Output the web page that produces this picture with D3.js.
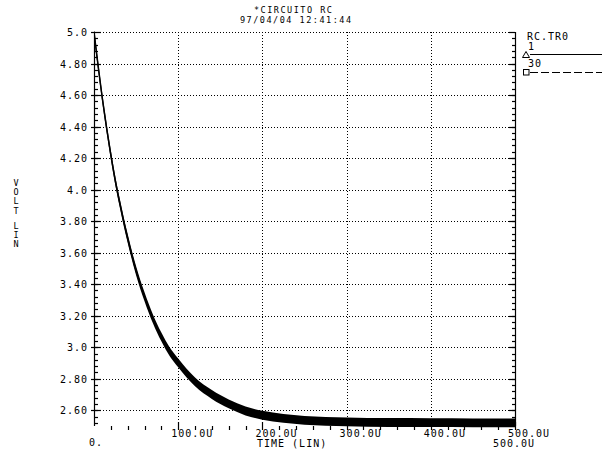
<!DOCTYPE html>
<html>
<head>
<meta charset="utf-8">
<script src="https://cdn.jsdelivr.net/npm/d3@7"></script>
<style>
  body { margin: 0; background: #fff; }
  svg text { font-family: "DejaVu Sans Mono", monospace; font-size: 10px; letter-spacing: 1px; fill: #000; }
  svg text.title { font-size: 8.5px; letter-spacing: 1.5px; }
  svg text.vert { font-size: 8.5px; letter-spacing: -0.8px; writing-mode: vertical-rl; text-orientation: upright; }
</style>
</head>
<body>
<svg id="chart"></svg>
<script>
// title lines
var titleLines = ["*CIRCUITO RC", "97/04/04 12:41:44"];

// x axis (time, in micro seconds)
var xMajor = [100, 200, 300, 400, 500];
var xLabels = ["100.0U", "200.0U", "300.0U", "400.0U", "500.0U"];

// y axis (volt)
var yMajor = [5.0, 4.8, 4.6, 4.4, 4.2, 4.0, 3.8, 3.6, 3.4, 3.2, 3.0, 2.8, 2.6];
var yLabels = ["5.0", "4.80", "4.60", "4.40", "4.20", "4.0", "3.80", "3.60", "3.40", "3.20", "3.0", "2.80", "2.60"];

// curve
var timeUs = [0, 5, 10, 15, 20, 25, 30, 40, 50, 60, 70, 80, 90, 100, 110, 120, 140, 160, 180, 200, 225, 250, 300, 350, 400, 450, 500];
var voltMid = [5.00, 4.78, 4.575, 4.39, 4.22, 4.065, 3.93, 3.69, 3.485, 3.32, 3.18, 3.065, 2.97, 2.9, 2.835, 2.78, 2.70, 2.64, 2.595, 2.568, 2.548, 2.536, 2.526, 2.522, 2.521, 2.52, 2.52];
// ripple of the trace, plus / minus volt
var ripple = 0.028;

var legendNames = ["1", "30"];

var config = { w: 612, h: 451, left: 94, right: 515, top: 32, bottom: 426 };

var svg = d3.select("#chart").attr("width", config.w).attr("height", config.h);

var x = d3.scaleLinear().domain([0, 500]).range([config.left, config.right]);
var y = d3.scaleLinear().domain([2.5, 5.0]).range([config.bottom, config.top]);

// titles
svg.append("text").attr("class", "title").attr("x", 254).attr("y", 12.5).text(titleLines[0]);
svg.append("text").attr("class", "title").attr("x", 240).attr("y", 22.5).text(titleLines[1]);

// grid
var grid = svg.append("g").attr("stroke", "#000").attr("stroke-width", 1).attr("stroke-dasharray", "1,2");
grid.selectAll("line.h")
  .data(yMajor)
  .enter().append("line")
  .attr("class", "h")
  .attr("x1", config.left).attr("x2", config.right)
  .attr("y1", function(d) { return Math.round(y(d)) + 0.5; })
  .attr("y2", function(d) { return Math.round(y(d)) + 0.5; });
grid.selectAll("line.v")
  .data(xMajor.slice(0, 4))
  .enter().append("line")
  .attr("class", "v")
  .attr("y1", config.top).attr("y2", config.bottom)
  .attr("x1", function(d) { return Math.round(x(d)) + 0.5; })
  .attr("x2", function(d) { return Math.round(x(d)) + 0.5; });

// axes lines
var ax = svg.append("g").attr("stroke", "#000").attr("stroke-width", 1.2);
ax.append("line").attr("x1", config.left + 0.5).attr("x2", config.left + 0.5).attr("y1", config.top).attr("y2", config.bottom);
ax.append("line").attr("x1", config.right + 0.5).attr("x2", config.right + 0.5).attr("y1", config.top).attr("y2", config.bottom);

// y ticks
var yMinor = d3.range(2.52, 4.99, 0.04);
ax.selectAll("line.ymin")
  .data(yMinor)
  .enter().append("line")
  .attr("x1", config.left).attr("x2", config.left + 4)
  .attr("y1", function(d) { return Math.round(y(d)) + 0.5; })
  .attr("y2", function(d) { return Math.round(y(d)) + 0.5; });
ax.selectAll("line.ymaj")
  .data(yMajor)
  .enter().append("line")
  .attr("x1", config.left - 3).attr("x2", config.left + 7)
  .attr("y1", function(d) { return Math.round(y(d)) + 0.5; })
  .attr("y2", function(d) { return Math.round(y(d)) + 0.5; });
ax.selectAll("line.ymin2")
  .data(yMinor)
  .enter().append("line")
  .attr("x1", config.right - 3).attr("x2", config.right)
  .attr("y1", function(d) { return Math.round(y(d)) + 0.5; })
  .attr("y2", function(d) { return Math.round(y(d)) + 0.5; });
ax.selectAll("line.ymaj2")
  .data(yMajor)
  .enter().append("line")
  .attr("x1", config.right - 6).attr("x2", config.right)
  .attr("y1", function(d) { return Math.round(y(d)) + 0.5; })
  .attr("y2", function(d) { return Math.round(y(d)) + 0.5; });

// x ticks
var xMinor = d3.range(20, 500, 20).filter(function(d) { return d % 100 != 0; });
ax.selectAll("line.xmin")
  .data(xMinor)
  .enter().append("line")
  .attr("y1", config.bottom).attr("y2", config.bottom + 4)
  .attr("x1", function(d) { return Math.round(x(d)) + 0.5; })
  .attr("x2", function(d) { return Math.round(x(d)) + 0.5; });
ax.selectAll("line.xmaj")
  .data(xMajor)
  .enter().append("line")
  .attr("y1", config.bottom - 4).attr("y2", config.bottom + 4)
  .attr("x1", function(d) { return Math.round(x(d)) + 0.5; })
  .attr("x2", function(d) { return Math.round(x(d)) + 0.5; });

// y labels
svg.selectAll("text.yl")
  .data(yMajor)
  .enter().append("text")
  .attr("text-anchor", "end")
  .attr("x", 88)
  .attr("y", function(d) { return y(d) + 4; })
  .text(function(d, i) { return yLabels[i]; });

// x labels
svg.selectAll("text.xl")
  .data(xMajor)
  .enter().append("text")
  .attr("x", function(d) { return x(d) - 7; })
  .attr("y", 437)
  .text(function(d, i) { return xLabels[i]; });
svg.append("text").attr("x", 89).attr("y", 446).text("0.");
svg.append("text").attr("x", 257).attr("y", 447).text("TIME (LIN)");
svg.append("text").attr("x", 493).attr("y", 447).text("500.0U");

// vertical y title
svg.append("text").attr("class", "vert").attr("x", 16).attr("y", 178).text("VOLT");
svg.append("text").attr("class", "vert").attr("x", 16).attr("y", 221).text("LIN");

// the trace
svg.append("clipPath").attr("id", "clip")
  .append("rect").attr("x", config.left).attr("y", config.top - 1)
  .attr("width", config.right - config.left + 1).attr("height", config.bottom - config.top + 3);

var pts = timeUs.map(function(t, i) { return { t: t, v: voltMid[i] }; });

var band = d3.area()
  .curve(d3.curveMonotoneX)
  .x(function(d) { return x(d.t); })
  .y0(function(d) { return y(d.v - ripple); })
  .y1(function(d) { return y(d.v + ripple); });

var line = d3.line()
  .curve(d3.curveMonotoneX)
  .x(function(d) { return x(d.t); })
  .y(function(d) { return y(d.v); });

var plot = svg.append("g").attr("clip-path", "url(#clip)");
plot.append("path").attr("d", band(pts)).attr("fill", "#000");
plot.append("path").attr("d", line(pts)).attr("fill", "none").attr("stroke", "#000").attr("stroke-width", 1.5);

// legend
var lg = svg.append("g");
lg.append("text").attr("x", 527).attr("y", 40).text("RC.TR0");
lg.append("text").attr("x", 528).attr("y", 50).text(legendNames[0]);
lg.append("path").attr("d", "M522.5,57.5L526,51.5L529.5,57.5Z").attr("fill", "none").attr("stroke", "#000");
lg.append("line").attr("x1", 530).attr("x2", 602).attr("y1", 54.5).attr("y2", 54.5).attr("stroke", "#000");
lg.append("text").attr("x", 528).attr("y", 67).text(legendNames[1]);
lg.append("rect").attr("x", 523.5).attr("y", 69.5).attr("width", 5.5).attr("height", 5.5).attr("fill", "none").attr("stroke", "#000");
lg.append("line").attr("x1", 530).attr("x2", 602).attr("y1", 72.5).attr("y2", 72.5).attr("stroke", "#000").attr("stroke-dasharray", "8,3");
</script>
</body>
</html>
